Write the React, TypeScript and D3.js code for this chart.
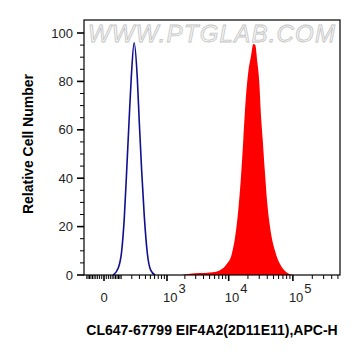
import * as d3 from 'd3';
import { useRef, useEffect } from 'react';

// control (unstained) histogram, APC-H channel value vs relative count
const controlX = [46, 79, 104, 126, 147, 170, 195, 228, 270, 298, 335, 380, 436, 507, 611];
const controlY = [0, 3, 10, 24, 43, 63, 82, 96, 81, 63, 43, 24, 9, 2, 0];

// stained sample histogram
const stainedX = [1800, 2425, 5076, 7307, 9309, 11151, 12560, 14145, 15422, 16933, 18459, 20264, 22327, 24248,
  26051, 27990, 30072, 31618, 33968, 36886, 40053, 45235, 52762, 63088, 80140, 101456];
const stainedY = [0, 0.5, 1, 2, 4.5, 8.6, 15.5, 27, 39, 56, 72.5, 84, 90.5, 95.5,
  95, 88, 79.5, 68, 56, 42, 29.5, 18, 10, 4.5, 1, 0];

const yTickValues = [0, 20, 40, 60, 80, 100];
const xTickValues = [0, 1e3, 1e4, 1e5];
const xTickBases = ['0', '10', '10', '10'];
const xTickExponents = ['', '3', '4', '5'];

const xLabel = 'CL647-67799 EIF4A2(2D11E11),APC-H';
const yLabel = 'Relative Cell Number';
const watermark = 'WWW.PTGLAB.COM';

export default function App() {
  const ref = useRef<SVGSVGElement>(null);

  useEffect(() => {
    const width = 361;
    const height = 356;
    const margin = { top: 20, right: 21, bottom: 81, left: 84 };
    const font = "'Liberation Sans', Arial, sans-serif";

    // biexponential-like axis
    const x = d3.scaleSymlog()
      .constant(118)
      .domain([-123, 538000])
      .range([margin.left, width - margin.right]);

    const y = d3.scaleLinear()
      .domain([0, 100])
      .range([height - margin.bottom, 33]);

    const svg = d3.select(ref.current)
      .attr('width', width)
      .attr('height', height)
      .attr('viewBox', `0 0 ${width} ${height}`)
      .style('font-family', font);

    svg.selectAll('*').remove();

    svg.append('rect')
      .attr('width', width).attr('height', height)
      .attr('fill', '#fff');

    // watermark
    svg.append('text')
      .attr('x', 88)
      .attr('y', 42)
      .attr('textLength', 247)
      .attr('lengthAdjust', 'spacing')
      .attr('font-size', 24)
      .attr('font-style', 'italic')
      .attr('fill', '#f7f7f7')
      .attr('stroke', '#c4c4c4')
      .attr('stroke-width', 0.8)
      .text(watermark);

    // --- histograms ---
    const stained = stainedX.map((v, i) => [v, stainedY[i]]);
    const control = controlX.map((v, i) => [v, controlY[i]]);

    const area = d3.area<number[]>()
      .x(d => x(d[0]))
      .y0(y(0))
      .y1(d => y(d[1]))
      .curve(d3.curveMonotoneX);

    const line = d3.line<number[]>()
      .x(d => x(d[0]))
      .y(d => y(d[1]))
      .curve(d3.curveMonotoneX);

    svg.append('path')
      .datum(stained)
      .attr('d', area)
      .attr('fill', '#ff0000');

    svg.append('path')
      .datum(control)
      .attr('d', line)
      .attr('fill', 'none')
      .attr('stroke', '#10108f')
      .attr('stroke-width', 1.6);

    // frame
    svg.append('rect')
      .attr('x', margin.left)
      .attr('y', margin.top)
      .attr('width', width - margin.left - margin.right)
      .attr('height', height - margin.bottom - margin.top)
      .attr('fill', 'none')
      .attr('stroke', '#000')
      .attr('stroke-width', 1.2);

    // --- Y axis ---
    const yMinor = d3.range(0, 101, 5).filter(v => v % 20 !== 0);
    svg.append('g')
      .selectAll('line')
      .data(yMinor)
      .join('line')
      .attr('x1', margin.left - 4).attr('x2', margin.left)
      .attr('y1', d => y(d)).attr('y2', d => y(d))
      .attr('stroke', '#000').attr('stroke-width', 1);

    svg.append('g')
      .selectAll('line')
      .data(yTickValues)
      .join('line')
      .attr('x1', margin.left - 7).attr('x2', margin.left)
      .attr('y1', d => y(d)).attr('y2', d => y(d))
      .attr('stroke', '#000').attr('stroke-width', 1.6);

    svg.append('g')
      .selectAll('text')
      .data(yTickValues)
      .join('text')
      .attr('x', 73)
      .attr('y', d => y(d))
      .attr('dy', '0.36em')
      .attr('text-anchor', 'end')
      .attr('font-size', 13)
      .attr('fill', '#222')
      .text(d => d);

    // --- X axis ---
    const xMinor: number[] = [];
    [10, 100, 1000, 10000, 100000].forEach(step => {
      for (let k = 1; k <= 9; k++) {
        const v = k * step;
        if (xTickValues.includes(v)) continue;
        if (v < 538000) xMinor.push(v);
        if (-v > -123) xMinor.push(-v);
      }
    });

    svg.append('g')
      .selectAll('line')
      .data(xMinor)
      .join('line')
      .attr('x1', d => x(d)).attr('x2', d => x(d))
      .attr('y1', y(0)).attr('y2', y(0) + 4)
      .attr('stroke', '#000').attr('stroke-width', 1);

    svg.append('g')
      .selectAll('line')
      .data(xTickValues)
      .join('line')
      .attr('x1', d => x(d)).attr('x2', d => x(d))
      .attr('y1', y(0)).attr('y2', y(0) + 6)
      .attr('stroke', '#000').attr('stroke-width', 1.6);

    const xl = svg.append('g')
      .selectAll('text')
      .data(xTickValues)
      .join('text')
      .attr('x', (d, i) => (i === 0 ? x(d) : x(d) - 4))
      .attr('y', 302)
      .attr('text-anchor', (d, i) => (i === 0 ? 'middle' : 'start'))
      .attr('font-size', 13)
      .attr('fill', '#222');

    xl.append('tspan').text((d, i) => xTickBases[i]);
    xl.append('tspan')
      .attr('dy', -9)
      .attr('dx', 1)
      .attr('font-size', 13)
      .text((d, i) => xTickExponents[i]);

    // --- axis titles ---
    svg.append('text')
      .attr('x', 212)
      .attr('y', 335)
      .attr('text-anchor', 'middle')
      .attr('font-size', 14)
      .attr('font-weight', 'bold')
      .attr('fill', '#000')
      .text(xLabel);

    svg.append('text')
      .attr('transform', `translate(33,${(33 + 275) / 2 - 10}) rotate(-90)`)
      .attr('text-anchor', 'middle')
      .attr('font-size', 14)
      .attr('font-weight', 'bold')
      .attr('fill', '#000')
      .text(yLabel);
  }, []);

  return (
    <svg ref={ref} style={{ position: 'absolute', left: 0, top: 0 }}></svg>
  );
}
